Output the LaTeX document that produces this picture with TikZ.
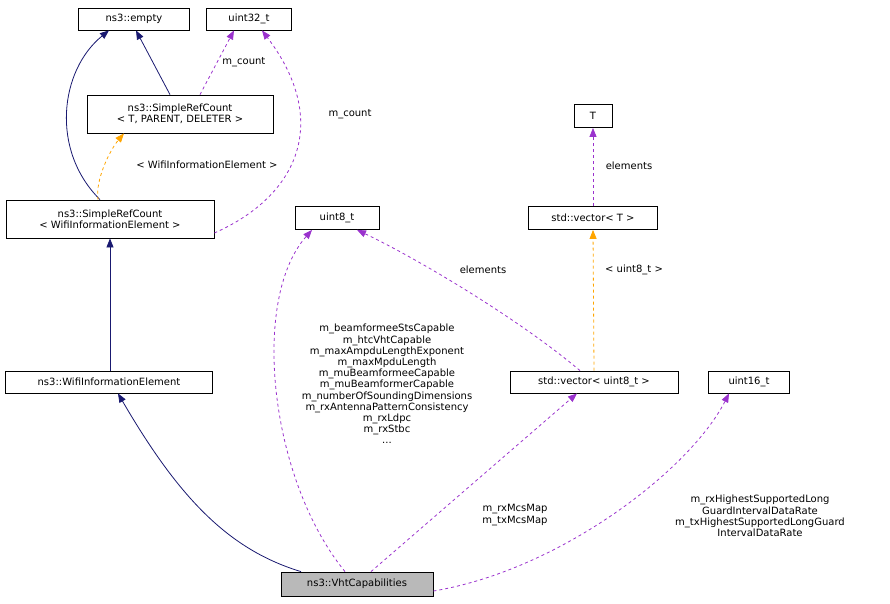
\documentclass[tikz,border=0pt]{standalone}
\usepackage{fontspec}
\setmainfont{DejaVu Sans}
\usetikzlibrary{arrows.meta}
\definecolor{navy}{HTML}{191970}
\definecolor{purp}{HTML}{9A32CD}
\definecolor{orng}{HTML}{FFA500}
\begin{document}
\begin{tikzpicture}[x=1pt,y=-1pt,font=\fontsize{10}{11.2}\selectfont,line width=0.8pt,
 box/.style={draw,fill=white,inner sep=2pt,align=center},
 inh/.style={navy,-{Triangle[length=9pt,width=7pt]}},
 use/.style={purp,dashed,-{Triangle[length=9pt,width=7pt]}},
 tpl/.style={orng,dashed,-{Triangle[length=9pt,width=7pt]}},
 lbl/.style={align=center,inner sep=1pt,text=black}]
\useasboundingbox (0,0) rectangle (890,603);
\node[box,minimum width=111pt,minimum height=22pt] (empty) at (134,19) {ns3::empty};
\node[box,minimum width=85pt,minimum height=22pt] (u32) at (249,19) {uint32\_t};
\node[box,minimum width=186pt,minimum height=38pt] (srct) at (180,114) {ns3::SimpleRefCount\\< T, PARENT, DELETER >};
\node[box,minimum width=208pt,minimum height=38pt] (srcw) at (110,219) {ns3::SimpleRefCount\\< WifiInformationElement >};
\node[box,minimum width=38pt,minimum height=23pt] (T) at (593,116) {T};
\node[box,minimum width=129pt,minimum height=23pt] (vT) at (593,218) {std::vector< T >};
\node[box,minimum width=84pt,minimum height=23pt] (u8) at (337,218) {uint8\_t};
\node[box,minimum width=207pt,minimum height=22pt] (wie) at (109,382) {ns3::WifiInformationElement};
\node[box,minimum width=168pt,minimum height=22pt] (vu8) at (594,382) {std::vector< uint8\_t >};
\node[box,minimum width=81pt,minimum height=22pt] (u16) at (749,382) {uint16\_t};
\node[box,fill=gray!55,minimum width=152pt,minimum height=24pt] (vht) at (357,584) {ns3::VhtCapabilities};

\draw[inh] ([xshift=-10pt]srcw.north) .. controls (50,150) and (60,70) .. ([xshift=-25pt]empty.south);
\draw[inh] ([xshift=-10pt]srct.north) -- ([xshift=2pt]empty.south);
\draw[use] ([xshift=20pt]srct.north) -- ([xshift=-15pt]u32.south) node[pos=0.5,right,lbl,xshift=4pt] {m\_count};
\draw[use] ([yshift=-14pt]srcw.east) .. controls (300,195) and (330,120) .. ([xshift=13pt]u32.south);
\node[lbl] at (350,114) {m\_count};
\draw[tpl] ([xshift=-12pt]srcw.north) .. controls (95,180) and (110,150) .. ([xshift=-56pt]srct.south);
\node[lbl] at (207,165) {< WifiInformationElement >};
\draw[inh] (wie.north -| srcw.south) -- (srcw.south);
\draw[inh] ([xshift=-56pt]vht.north) .. controls (230,550) and (180,500) .. ([xshift=9pt]wie.south);
\draw[use] ([xshift=-12pt]vht.north) .. controls (270,480) and (250,300) .. ([xshift=-25pt]u8.south);
\node[lbl] at (387,384) {m\_beamformeeStsCapable\\m\_htcVhtCapable\\m\_maxAmpduLengthExponent\\m\_maxMpduLength\\m\_muBeamformeeCapable\\m\_muBeamformerCapable\\m\_numberOfSoundingDimensions\\m\_rxAntennaPatternConsistency\\m\_rxLdpc\\m\_rxStbc\\...};
\draw[use] ([xshift=-14pt]vu8.north) .. controls (520,320) and (420,260) .. ([xshift=20pt]u8.south);
\node[lbl] at (483,270) {elements};
\draw[tpl] (vu8.north) -- (vT.south);
\node[lbl] at (634,270) {< uint8\_t >};
\draw[use] (vT.north) -- (T.south);
\node[lbl] at (629,166) {elements};
\draw[use] ([xshift=14pt]vht.north) -- ([xshift=-17pt]vu8.south);
\node[lbl] at (515,515) {m\_rxMcsMap\\m\_txMcsMap};
\draw[use] ([yshift=-7pt]vht.east) .. controls (560,570) and (690,470) .. ([xshift=-20pt]u16.south);
\node[lbl] at (760,516) {m\_rxHighestSupportedLong\\GuardIntervalDataRate\\m\_txHighestSupportedLongGuard\\IntervalDataRate};
\end{tikzpicture}
\end{document}
